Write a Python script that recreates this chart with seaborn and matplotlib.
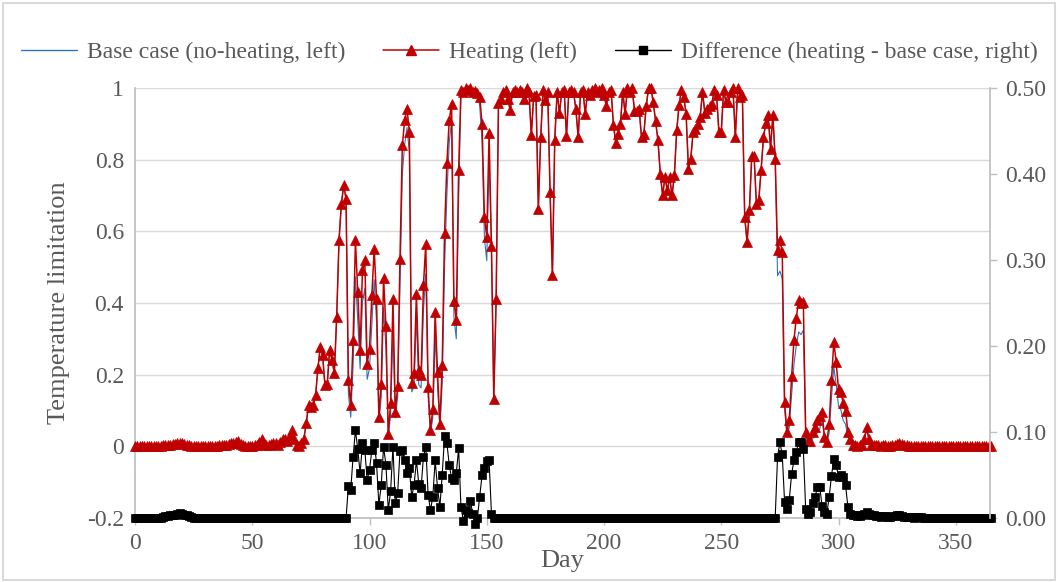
import matplotlib
matplotlib.use("Agg")
import matplotlib.pyplot as plt
import seaborn as sns
import pandas as pd
from matplotlib.lines import Line2D
from matplotlib.patches import Rectangle

# ---------------- data ----------------
days = list(range(366))

heating = [
    0.000, 0.001, 0.000, 0.002, 0.001, 0.000, 0.001, 0.002, 0.001, 0.000,
    0.001, 0.002, 0.003, 0.004, 0.005, 0.005, 0.006, 0.007, 0.008, 0.010,
    0.008, 0.006, 0.004, 0.003, 0.002, 0.000, 0.000, 0.001, 0.000, 0.000,
    0.000, 0.001, 0.002, 0.001, 0.000, 0.002, 0.004, 0.003, 0.005, 0.004,
    0.006, 0.008, 0.010, 0.012, 0.015, 0.006, 0.003, 0.002, 0.002, 0.001,
    0.002, 0.003, 0.005, 0.012, 0.020, 0.008, 0.004, 0.003, 0.006, 0.008,
    0.010, 0.005, 0.012, 0.020, 0.020, 0.015, 0.030, 0.045, 0.020, 0.005,
    0.000, 0.010, 0.020, 0.064, 0.114, 0.110, 0.114, 0.142, 0.218, 0.277,
    0.254, 0.170, 0.175, 0.270, 0.240, 0.204, 0.360, 0.575, 0.677, 0.728,
    0.691, 0.184, 0.114, 0.296, 0.575, 0.430, 0.268, 0.491, 0.519, 0.231,
    0.273, 0.421, 0.552, 0.412, 0.082, 0.175, 0.470, 0.335, 0.035, 0.120,
    0.410, 0.096, 0.167, 0.524, 0.840, 0.910, 0.942, 0.877, 0.177, 0.205,
    0.426, 0.212, 0.198, 0.450, 0.564, 0.166, 0.045, 0.105, 0.375, 0.207,
    0.063, 0.226, 0.594, 0.790, 0.910, 0.955, 0.405, 0.352, 0.770, 0.995,
    0.990, 1.000, 0.995, 1.000, 0.990, 0.993, 0.985, 0.975, 0.900, 0.640,
    0.584, 0.874, 0.560, 0.133, 0.410, 0.957, 0.970, 0.990, 0.995, 0.970,
    0.938, 0.990, 0.995, 0.990, 0.995, 0.990, 0.968, 1.000, 0.990, 0.868,
    0.977, 0.980, 0.663, 0.862, 0.995, 0.966, 0.990, 0.710, 0.477, 0.856,
    0.990, 0.930, 0.990, 0.995, 0.865, 0.990, 0.995, 0.990, 0.940, 0.862,
    0.990, 0.995, 0.928, 0.990, 0.980, 0.995, 1.000, 0.990, 0.995, 1.000,
    0.980, 0.950, 0.990, 0.995, 0.898, 0.847, 0.873, 0.900, 0.990, 0.928,
    1.000, 0.990, 1.000, 0.936, 0.935, 0.940, 0.862, 0.873, 0.949, 1.000,
    1.000, 0.960, 0.908, 0.854, 0.761, 0.700, 0.752, 0.714, 0.752, 0.700,
    0.756, 0.882, 0.952, 0.995, 0.975, 0.928, 0.775, 0.803, 0.877, 0.885,
    0.900, 0.919, 0.990, 0.930, 0.940, 0.950, 0.955, 0.995, 0.980, 0.877,
    0.877, 0.995, 0.960, 0.960, 0.990, 1.000, 0.862, 1.000, 0.975, 0.980,
    0.640, 0.570, 0.660, 0.810, 0.810, 0.675, 0.688, 0.772, 0.862, 0.902,
    0.924, 0.831, 0.924, 0.803, 0.547, 0.577, 0.542, 0.124, 0.040, 0.073,
    0.195, 0.296, 0.359, 0.407, 0.400, 0.404, 0.040, 0.015, 0.015, 0.040,
    0.054, 0.074, 0.085, 0.096, 0.026, 0.012, 0.061, 0.184, 0.291, 0.235,
    0.160, 0.152, 0.120, 0.100, 0.040, 0.021, 0.004, 0.003, 0.002, 0.003,
    0.005, 0.020, 0.054, 0.020, 0.005, 0.004, 0.003, 0.003, 0.002, 0.003,
    0.003, 0.002, 0.002, 0.003, 0.005, 0.006, 0.008, 0.006, 0.004, 0.003,
    0.002, 0.002, 0.001, 0.002, 0.002, 0.001, 0.001, 0.000, 0.001, 0.000,
    0.000, 0.001, 0.000, 0.000, 0.000, 0.001, 0.000, 0.000, 0.000, 0.000,
    0.000, 0.000, 0.001, 0.000, 0.000, 0.000, 0.000, 0.000, 0.000, 0.000,
    0.000, 0.000, 0.000, 0.000, 0.000, 0.000,
]

base_case = [
    0.000, 0.001, 0.000, 0.002, 0.001, 0.000, 0.001, 0.002, 0.001, 0.000,
    0.001, 0.002, 0.002, 0.002, 0.003, 0.002, 0.003, 0.003, 0.003, 0.004,
    0.003, 0.002, 0.001, 0.001, 0.001, 0.000, 0.000, 0.001, 0.000, 0.000,
    0.000, 0.001, 0.002, 0.001, 0.000, 0.002, 0.004, 0.003, 0.005, 0.004,
    0.006, 0.008, 0.010, 0.012, 0.015, 0.006, 0.003, 0.002, 0.002, 0.001,
    0.002, 0.003, 0.005, 0.012, 0.020, 0.008, 0.004, 0.003, 0.006, 0.008,
    0.010, 0.005, 0.012, 0.020, 0.020, 0.015, 0.030, 0.045, 0.020, 0.005,
    0.000, 0.010, 0.020, 0.064, 0.114, 0.110, 0.114, 0.142, 0.218, 0.277,
    0.254, 0.170, 0.175, 0.270, 0.240, 0.204, 0.360, 0.575, 0.677, 0.728,
    0.691, 0.147, 0.081, 0.225, 0.473, 0.350, 0.216, 0.404, 0.440, 0.187,
    0.217, 0.342, 0.465, 0.348, 0.067, 0.137, 0.387, 0.273, 0.026, 0.089,
    0.327, 0.079, 0.138, 0.446, 0.761, 0.843, 0.890, 0.819, 0.152, 0.167,
    0.359, 0.172, 0.163, 0.379, 0.481, 0.139, 0.036, 0.080, 0.308, 0.172,
    0.050, 0.176, 0.499, 0.703, 0.848, 0.909, 0.361, 0.300, 0.689, 0.982,
    0.993, 0.991, 0.989, 0.980, 0.985, 1.000, 0.985, 0.950, 0.850, 0.582,
    0.518, 0.807, 0.555, 0.133, 0.410, 0.957, 0.970, 0.990, 0.995, 0.970,
    0.938, 0.990, 0.995, 0.990, 0.995, 0.990, 0.968, 1.000, 0.990, 0.868,
    0.977, 0.980, 0.663, 0.862, 0.995, 0.966, 0.990, 0.710, 0.477, 0.856,
    0.990, 0.930, 0.990, 0.995, 0.865, 0.990, 0.995, 0.990, 0.940, 0.862,
    0.990, 0.995, 0.928, 0.990, 0.980, 0.995, 1.000, 0.990, 0.995, 1.000,
    0.980, 0.950, 0.990, 0.995, 0.898, 0.847, 0.873, 0.900, 0.990, 0.928,
    1.000, 0.990, 1.000, 0.936, 0.935, 0.940, 0.862, 0.873, 0.949, 1.000,
    1.000, 0.960, 0.908, 0.854, 0.761, 0.700, 0.752, 0.714, 0.752, 0.700,
    0.756, 0.882, 0.952, 0.995, 0.975, 0.928, 0.775, 0.803, 0.877, 0.885,
    0.900, 0.919, 0.990, 0.930, 0.940, 0.950, 0.955, 0.995, 0.980, 0.877,
    0.877, 0.995, 0.960, 0.960, 0.990, 1.000, 0.862, 1.000, 0.975, 0.980,
    0.640, 0.570, 0.660, 0.810, 0.810, 0.675, 0.688, 0.772, 0.862, 0.902,
    0.924, 0.831, 0.924, 0.803, 0.476, 0.489, 0.468, 0.105, 0.030, 0.052,
    0.144, 0.229, 0.282, 0.319, 0.312, 0.324, 0.030, 0.010, 0.008, 0.022,
    0.030, 0.038, 0.049, 0.082, 0.019, 0.007, 0.037, 0.135, 0.222, 0.173,
    0.112, 0.102, 0.072, 0.062, 0.027, 0.016, 0.001, 0.000, 0.000, 0.001,
    0.002, 0.015, 0.047, 0.015, 0.001, 0.001, 0.001, 0.001, 0.001, 0.001,
    0.001, 0.001, 0.001, 0.001, 0.003, 0.003, 0.005, 0.004, 0.003, 0.002,
    0.001, 0.001, 0.001, 0.001, 0.001, 0.000, 0.001, 0.000, 0.001, 0.000,
    0.000, 0.001, 0.000, 0.000, 0.000, 0.001, 0.000, 0.000, 0.000, 0.000,
    0.000, 0.000, 0.001, 0.000, 0.000, 0.000, 0.000, 0.000, 0.000, 0.000,
    0.000, 0.000, 0.000, 0.000, 0.000, 0.000,
]

difference = [
    0.000, 0.000, 0.000, 0.000, 0.000, 0.000, 0.000, 0.000, 0.000, 0.000,
    0.000, 0.000, 0.001, 0.002, 0.002, 0.003, 0.003, 0.004, 0.005, 0.006,
    0.005, 0.004, 0.003, 0.002, 0.001, 0.000, 0.000, 0.000, 0.000, 0.000,
    0.000, 0.000, 0.000, 0.000, 0.000, 0.000, 0.000, 0.000, 0.000, 0.000,
    0.000, 0.000, 0.000, 0.000, 0.000, 0.000, 0.000, 0.000, 0.000, 0.000,
    0.000, 0.000, 0.000, 0.000, 0.000, 0.000, 0.000, 0.000, 0.000, 0.000,
    0.000, 0.000, 0.000, 0.000, 0.000, 0.000, 0.000, 0.000, 0.000, 0.000,
    0.000, 0.000, 0.000, 0.000, 0.000, 0.000, 0.000, 0.000, 0.000, 0.000,
    0.000, 0.000, 0.000, 0.000, 0.000, 0.000, 0.000, 0.000, 0.000, 0.000,
    0.000, 0.037, 0.033, 0.071, 0.102, 0.080, 0.052, 0.087, 0.079, 0.044,
    0.056, 0.079, 0.087, 0.064, 0.015, 0.038, 0.083, 0.062, 0.009, 0.031,
    0.083, 0.017, 0.029, 0.078, 0.079, 0.067, 0.052, 0.058, 0.025, 0.038,
    0.067, 0.040, 0.035, 0.071, 0.083, 0.027, 0.009, 0.025, 0.067, 0.035,
    0.013, 0.050, 0.095, 0.087, 0.062, 0.046, 0.044, 0.052, 0.081, 0.013,
    -0.003, 0.009, 0.006, 0.020, 0.005, -0.007, 0.000, 0.025, 0.050, 0.058,
    0.066, 0.067, 0.005, 0.000, 0.000, 0.000, 0.000, 0.000, 0.000, 0.000,
    0.000, 0.000, 0.000, 0.000, 0.000, 0.000, 0.000, 0.000, 0.000, 0.000,
    0.000, 0.000, 0.000, 0.000, 0.000, 0.000, 0.000, 0.000, 0.000, 0.000,
    0.000, 0.000, 0.000, 0.000, 0.000, 0.000, 0.000, 0.000, 0.000, 0.000,
    0.000, 0.000, 0.000, 0.000, 0.000, 0.000, 0.000, 0.000, 0.000, 0.000,
    0.000, 0.000, 0.000, 0.000, 0.000, 0.000, 0.000, 0.000, 0.000, 0.000,
    0.000, 0.000, 0.000, 0.000, 0.000, 0.000, 0.000, 0.000, 0.000, 0.000,
    0.000, 0.000, 0.000, 0.000, 0.000, 0.000, 0.000, 0.000, 0.000, 0.000,
    0.000, 0.000, 0.000, 0.000, 0.000, 0.000, 0.000, 0.000, 0.000, 0.000,
    0.000, 0.000, 0.000, 0.000, 0.000, 0.000, 0.000, 0.000, 0.000, 0.000,
    0.000, 0.000, 0.000, 0.000, 0.000, 0.000, 0.000, 0.000, 0.000, 0.000,
    0.000, 0.000, 0.000, 0.000, 0.000, 0.000, 0.000, 0.000, 0.000, 0.000,
    0.000, 0.000, 0.000, 0.000, 0.071, 0.088, 0.074, 0.019, 0.010, 0.021,
    0.051, 0.067, 0.077, 0.088, 0.088, 0.080, 0.010, 0.005, 0.007, 0.018,
    0.024, 0.036, 0.036, 0.014, 0.007, 0.005, 0.024, 0.049, 0.069, 0.062,
    0.048, 0.050, 0.048, 0.038, 0.013, 0.005, 0.003, 0.003, 0.002, 0.002,
    0.003, 0.005, 0.007, 0.005, 0.004, 0.003, 0.002, 0.002, 0.001, 0.002,
    0.002, 0.001, 0.001, 0.002, 0.002, 0.003, 0.003, 0.002, 0.001, 0.001,
    0.001, 0.001, 0.000, 0.001, 0.001, 0.001, 0.000, 0.000, 0.000, 0.000,
    0.000, 0.000, 0.000, 0.000, 0.000, 0.000, 0.000, 0.000, 0.000, 0.000,
    0.000, 0.000, 0.000, 0.000, 0.000, 0.000, 0.000, 0.000, 0.000, 0.000,
    0.000, 0.000, 0.000, 0.000, 0.000, 0.000,
]

series_names = ["Base case (no-heating, left)", "Heating (left)",
                "Difference (heating - base case, right)"]
x_ticks = [0, 50, 100, 150, 200, 250, 300, 350]
left_ticks = [-0.2, 0.0, 0.2, 0.4, 0.6, 0.8, 1.0]
left_labels = ["-0.2", "0", "0.2", "0.4", "0.6", "0.8", "1"]
right_ticks = [0.0, 0.1, 0.2, 0.3, 0.4, 0.5]
right_labels = ["0.00", "0.10", "0.20", "0.30", "0.40", "0.50"]
x_label = "Day"
y_label = "Temperature limitation"

# ---------------- styling ----------------
sns.set_theme(style="white")
plt.rcParams['font.family'] = ['Liberation Serif', 'DejaVu Serif']

TXT = "#595959"
GRID = "#d9d9d9"
AXC = "#bfbfbf"
BLUE = "#2E75B6"
RED = "#C00000"

df = pd.DataFrame({"Day": days, "base": base_case, "heat": heating,
                   "diff": difference})

fig = plt.figure(figsize=(10.58, 5.82), dpi=100)
ax = fig.add_axes([135 / 1058, 1 - 518 / 582, (990 - 135) / 1058, (518 - 88) / 582])
ax2 = ax.twinx()

sns.lineplot(data=df, x="Day", y="base", ax=ax, color=BLUE, linewidth=0.8,
             errorbar=None, zorder=3)
sns.lineplot(data=df, x="Day", y="heat", ax=ax, color=RED, linewidth=1.1,
             marker="^", markersize=7.2, markeredgecolor=RED, markeredgewidth=0.5,
             errorbar=None, zorder=4, clip_on=False)
sns.lineplot(data=df, x="Day", y="diff", ax=ax2, color="black", linewidth=0.8,
             marker="s", markersize=5.4, markeredgecolor="black", markeredgewidth=0.5,
             errorbar=None, clip_on=False)

ax.set_xlim(0, 364.6)
ax.set_ylim(-0.2, 1.0)
ax2.set_ylim(0.0, 0.5)

ax.set_xticks(x_ticks)
ax.set_xticklabels([str(t) for t in x_ticks])
ax.set_yticks(left_ticks)
ax.set_yticklabels(left_labels)
ax2.set_yticks(right_ticks)
ax2.set_yticklabels(right_labels)

ax.yaxis.grid(True, color=GRID, linewidth=1.0)
ax.xaxis.grid(False)
ax.set_axisbelow(True)

for sp in ["top", "right"]:
    ax.spines[sp].set_visible(False)
ax.spines["left"].set_color(AXC)
ax.spines["bottom"].set_color(AXC)
for sp in ["top", "left", "bottom"]:
    ax2.spines[sp].set_visible(False)
ax2.spines["right"].set_color(AXC)

ax.tick_params(axis="y", which="both", left=False, length=0, pad=8,
               labelsize=17, labelcolor=TXT)
ax.tick_params(axis="x", which="both", bottom=True, length=5, width=1,
               color=AXC, direction="out", pad=6, labelsize=17, labelcolor=TXT)
ax2.tick_params(axis="y", which="both", right=True, length=5, width=1,
                color=AXC, direction="out", pad=6, labelsize=17, labelcolor=TXT)

ax.set_xlabel(x_label, fontsize=19, color=TXT, labelpad=-3)
ax.set_ylabel(y_label, fontsize=19, color=TXT, labelpad=12)
ax2.set_ylabel("")

handles = [
    Line2D([], [], color=BLUE, linewidth=1.0),
    Line2D([], [], color=RED, linewidth=1.1, marker="^", markersize=7,
           markeredgecolor=RED),
    Line2D([], [], color="black", linewidth=1.0, marker="s", markersize=5.5,
           markeredgecolor="black"),
]
fig.legend(handles, series_names, loc="center", bbox_to_anchor=(0.5, 1 - 52 / 582),
           ncol=3, frameon=False, fontsize=17, handlelength=2.4,
           columnspacing=1.6, handletextpad=0.4, labelcolor=TXT)

fig.patches.append(Rectangle((0.003, 0.004), 0.994, 0.99, transform=fig.transFigure,
                             fill=False, edgecolor=GRID, linewidth=1.5))

fig.savefig("out.png", dpi=100)
